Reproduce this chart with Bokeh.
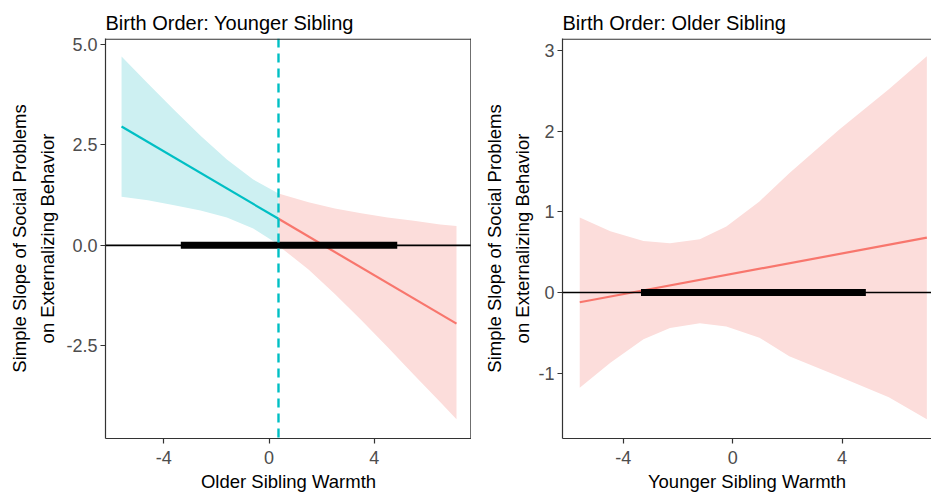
from bokeh.plotting import figure
from bokeh.models import Range1d, FixedTicker, Span
from bokeh.layouts import row
from bokeh.embed import file_html
from bokeh.resources import INLINE

TEAL = "#00BFC4"
RED = "#F8766D"
TEAL_FILL = "#CDF0F2"
RED_FILL = "#FCDDDB"
FONT = "Liberation Sans"
AXIS_COL = "#333333"

# ---------------- data: left panel (Birth Order: Younger Sibling) ----------------
left_jn = 0.36  # Johnson-Neyman point
left_sig_x = [-5.6, -4.6, -3.6, -2.6, -1.6, -0.6, 0.36]
left_sig_up = [4.70, 4.03, 3.37, 2.73, 2.14, 1.64, 1.29]
left_sig_lo = [1.21, 1.12, 1.00, 0.87, 0.69, 0.42, 0.02]
left_sig_line_x = [-5.6, 0.36]
left_sig_line_y = [2.96, 0.66]

left_ns_x = [0.36, 1.5, 2.5, 3.5, 4.5, 5.5, 6.5, 7.12]
left_ns_up = [1.29, 1.07, 0.92, 0.80, 0.69, 0.61, 0.52, 0.48]
left_ns_lo = [-0.01, -0.60, -1.21, -1.86, -2.53, -3.22, -3.90, -4.33]
left_ns_line_x = [0.36, 7.12]
left_ns_line_y = [0.66, -1.95]

left_range_x = [-3.35, 4.87]   # observed moderator range (thick bar)

# ---------------- data: right panel (Birth Order: Older Sibling) ----------------
right_x = [-5.59, -4.47, -3.26, -2.29, -1.2, -0.23, 0.98, 2.07, 3.89, 5.71, 7.1]
right_up = [0.93, 0.76, 0.64, 0.61, 0.66, 0.82, 1.13, 1.48, 2.02, 2.52, 2.93]
right_lo = [-1.18, -0.87, -0.58, -0.44, -0.38, -0.42, -0.56, -0.79, -1.04, -1.30, -1.57]
right_line_x = [-5.59, 7.1]
right_line_y = [-0.12, 0.68]

right_range_x = [-3.35, 4.87]

titles = ["Birth Order: Younger Sibling", "Birth Order: Older Sibling"]
xlabels = ["Older Sibling Warmth", "Younger Sibling Warmth"]
ylabel = "Simple Slope of Social Problems\non Externalizing Behavior"
x_ticks = [-4, 0, 4]
x_tick_labels = ["-4", "0", "4"]
left_y_ticks = [-2.5, 0.0, 2.5, 5.0]
left_y_labels = ["-2.5", "0.0", "2.5", "5.0"]
right_y_ticks = [-1, 0, 1, 2, 3]
right_y_labels = ["-1", "0", "1", "2", "3"]


def style(p, title, xlabel, yticks, ylabels):
    p.title.text = title
    p.title.text_font = FONT
    p.title.text_font_size = "20px"
    p.title.text_font_style = "normal"
    p.title.text_color = "black"
    p.title.align = "left"
    p.xgrid.visible = False
    p.ygrid.visible = False
    for ax in (p.xaxis[0], p.yaxis[0]):
        ax.axis_line_color = AXIS_COL
        ax.axis_line_width = 1.2
        ax.major_tick_line_color = AXIS_COL
        ax.major_tick_line_width = 1.2
        ax.major_tick_out = 5
        ax.major_tick_in = 0
        ax.minor_tick_line_color = None
        ax.major_label_text_font = FONT
        ax.major_label_text_font_size = "18px"
        ax.major_label_text_color = "#4D4D4D"
        ax.major_label_standoff = 3
        ax.axis_label_text_font = FONT
        ax.axis_label_text_font_size = "18.5px"
        ax.axis_label_text_font_style = "normal"
        ax.axis_label_text_color = "black"
        ax.axis_label_standoff = 1
    p.xaxis[0].major_label_standoff = 7
    p.xaxis[0].axis_label_standoff = 4
    p.xaxis[0].ticker = FixedTicker(ticks=x_ticks)
    p.xaxis[0].major_label_overrides = {t: l for t, l in zip(x_ticks, x_tick_labels)}
    p.yaxis[0].ticker = FixedTicker(ticks=yticks)
    p.yaxis[0].major_label_overrides = {t: l for t, l in zip(yticks, ylabels)}
    p.xaxis[0].axis_label = xlabel
    p.yaxis[0].axis_label = ylabel
    p.yaxis[0].axis_label_text_line_height = 1.35
    p.yaxis[0].axis_label_standoff = 5


def border(p, side, frame_px):
    """Draw a frame border line just inside the given frame edge."""
    if side == "top":
        r = p.y_range
        loc = r.end - 0.6 * (r.end - r.start) / frame_px
        p.add_layout(Span(location=loc, dimension="width", line_color=AXIS_COL, line_width=1.2))
    else:
        r = p.x_range
        loc = r.end - 0.6 * (r.end - r.start) / frame_px
        p.add_layout(Span(location=loc, dimension="height", line_color=AXIS_COL, line_width=1.2))


# ---------------- left figure ----------------
p1 = figure(width=471, height=495, output_backend="svg", toolbar_location=None,
            x_range=Range1d(-6.21, 7.69), y_range=Range1d(-4.81, 5.15),
            min_border_left=105, min_border_right=0, min_border_top=38, min_border_bottom=57)
style(p1, titles[0], xlabels[0], left_y_ticks, left_y_labels)
p1.outline_line_color = None

p1.varea(x=left_sig_x, y1=left_sig_lo, y2=left_sig_up, fill_color=TEAL_FILL)
p1.varea(x=left_ns_x, y1=left_ns_lo, y2=left_ns_up, fill_color=RED_FILL)
p1.line(left_sig_line_x, left_sig_line_y, line_color=TEAL, line_width=2.2)
p1.line(left_ns_line_x, left_ns_line_y, line_color=RED, line_width=2.2)
p1.add_layout(Span(location=0, dimension="width", line_color="black", line_width=1.6))
p1.line(left_range_x, [0, 0], line_color="black", line_width=7)
p1.add_layout(Span(location=left_jn, dimension="height", line_color=TEAL,
                   line_width=2.4, line_dash="9 6"))
border(p1, "top", 400)
border(p1, "right", 365)

# ---------------- right figure ----------------
p2 = figure(width=460, height=495, output_backend="svg", toolbar_location=None,
            x_range=Range1d(-6.22, 7.27), y_range=Range1d(-1.81, 3.15),
            min_border_left=91, min_border_right=0, min_border_top=38, min_border_bottom=57)
style(p2, titles[1], xlabels[1], right_y_ticks, right_y_labels)
p2.yaxis[0].axis_label_standoff = 2
p2.outline_line_color = None

p2.varea(x=right_x, y1=right_lo, y2=right_up, fill_color=RED_FILL)
p2.line(right_line_x, right_line_y, line_color=RED, line_width=2.2)
p2.add_layout(Span(location=0, dimension="width", line_color="black", line_width=1.6))
p2.line(right_range_x, [0, 0], line_color="black", line_width=7)
border(p2, "top", 400)

layout = row(p1, p2)
open("out.html", "w").write(file_html(layout, INLINE))
